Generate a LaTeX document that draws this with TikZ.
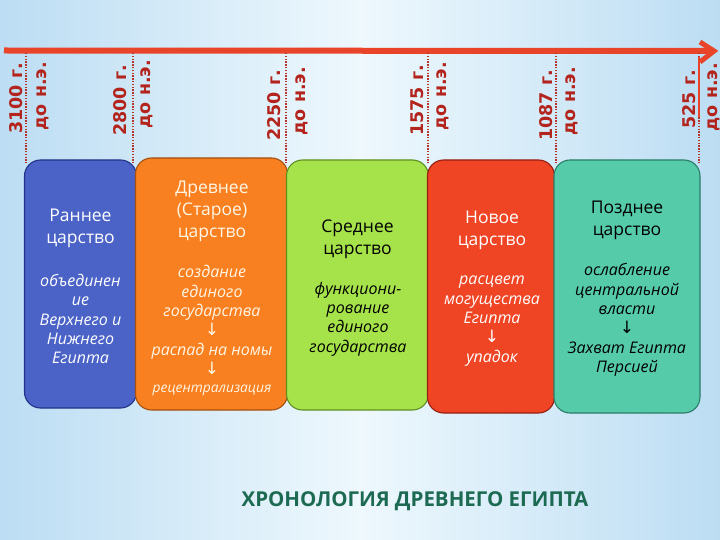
\documentclass[tikz,border=0pt]{standalone}
\usepackage{fontspec}
\setmainfont{Open Sans}
\newfontfamily\yearfont{DejaVu Sans}
\newfontfamily\arrfont{DejaVu Sans}
\definecolor{bgedge}{HTML}{BCDDF3}
\definecolor{bgmid}{HTML}{EEF8FD}
\definecolor{tline}{HTML}{E8442A}
\definecolor{yearc}{HTML}{B3241D}
\definecolor{dotc}{HTML}{B8332B}
\definecolor{blueF}{HTML}{4B63C7}
\definecolor{blueD}{HTML}{22338A}
\definecolor{orF}{HTML}{F98020}
\definecolor{orD}{HTML}{A4500F}
\definecolor{grF}{HTML}{A6E34A}
\definecolor{grD}{HTML}{5F8F22}
\definecolor{rdF}{HTML}{EF4524}
\definecolor{rdD}{HTML}{952012}
\definecolor{tlF}{HTML}{56CBAA}
\definecolor{tlD}{HTML}{2A7D66}
\definecolor{titlec}{HTML}{1D6A52}
\definecolor{cream}{HTML}{FFF6E6}
\tikzset{
  kbox/.style={draw, rounded corners=16pt, line width=1.1pt, inner sep=0pt, minimum width=#1},
  year/.style={font=\yearfont\bfseries\fontsize{17.5}{20}\selectfont, text=yearc, rotate=90, anchor=base east, inner sep=0pt},
  dotline/.style={draw=dotc, line width=1.5pt, dash pattern=on 1.4pt off 1.4pt},
  head/.style={font=\fontsize{17.5}{22}\selectfont, align=center, inner sep=0pt},
  body/.style={font=\itshape\fontsize{16}{19.3}\selectfont, align=center, inner sep=0pt},
}
\newcommand{\darr}{{\arrfont\fontsize{17}{19}\selectfont ↓}}
\begin{document}
\begin{tikzpicture}[x=1pt,y=-1pt]
\useasboundingbox (0,0) rectangle (720,540);
\shade[left color=bgedge, right color=bgedge, middle color=bgmid] (0,0) rectangle (720,540);

% boxes
\node[kbox=112, minimum height=248, fill=blueF, draw=blueD] (b1) at (80.5,284) {};
\node[kbox=152, minimum height=252, fill=orF, draw=orD] (b2) at (211.5,284) {};
\node[kbox=142, minimum height=250, fill=grF, draw=grD] (b3) at (357.5,285) {};
\node[kbox=127, minimum height=253, fill=rdF, draw=rdD] (b4) at (491,286.5) {};
\node[kbox=146, minimum height=253, fill=tlF, draw=tlD] (b5) at (627,286.5) {};

% timeline
\coordinate (ts) at (4,50.5);
\coordinate (te) at (714,51);
\coordinate (ch1) at (700,42);
\coordinate (ch2) at (700,62);
\draw[tline, line width=6pt] (ts) -- (te);
\draw[tline, line width=5pt, line join=miter] (ch1) -- (te) -- (ch2);

% dotted ticks
\foreach \n/\x in {1/26,2/133,3/286,4/428,5/556,6/699}{
  \coordinate (t\n a) at (\x,53);
  \coordinate (t\n b) at (\x,163);
  \draw[dotline] (t\n a) -- (t\n b);
}
\coordinate (rs1) at (699,57);
\coordinate (rs2) at (699,117);
\draw[tline, line width=2.5pt] (rs1) -- (rs2);

% year labels
\node[year] (y1) at (22,63) {3100 г.};
\node[year] (e1) at (46,62) {до н.э.};
\node[year] (y2) at (126,65) {2800 г.};
\node[year] (e2) at (150,60) {до н.э.};
\node[year] (y3) at (280,70) {2250 г.};
\node[year] (e3) at (305,67) {до н.э.};
\node[year] (y4) at (423,65) {1575 г.};
\node[year] (e4) at (446,62) {до н.э.};
\node[year] (y5) at (552,70) {1087 г.};
\node[year] (e5) at (575,67) {до н.э.};
\node[year] (y6) at (695,70) {525 г.};
\node[year] (e6) at (717,63) {до н.э.};

% texts
\node[head, text=white] (h1) at (80.5,228) {Раннее\\царство};
\node[body, text=white] (p1) at (80.5,319) {объединен\\ие\\Верхнего и\\Нижнего\\Египта};

\node[head, text=cream] (h2) at (212,211) {Древнее\\(Старое)\\царство};
\node[body, text=cream] (p2) at (212,320) {создание\\единого\\государства\\\darr\\распад на номы\\\darr};
\node[body, text=cream, font=\itshape\fontsize{13.8}{15}\selectfont] (p2b) at (212,390) {рецентрализация};

\node[head, text=black] (h3) at (357.5,239) {Среднее\\царство};
\node[body, text=black] (p3) at (358,319) {функциони-\\рование\\единого\\государства};

\node[head, text=white] (h4) at (492,230) {Новое\\царство};
\node[body, text=white] (p4) at (492,321) {расцвет\\могущества\\Египта\\\darr\\упадок};

\node[head, text=black] (h5) at (627,220) {Позднее\\царство};
\node[body, text=black] (p5) at (627,320) {ослабление\\центральной\\власти\\\darr\\Захват Египта\\Персией};

% title
\node[font=\bfseries\fontsize{20.5}{24}\selectfont, text=titlec, inner sep=0pt] (title) at (415,501) {ХРОНОЛОГИЯ ДРЕВНЕГО ЕГИПТА};
\end{tikzpicture}
\end{document}
